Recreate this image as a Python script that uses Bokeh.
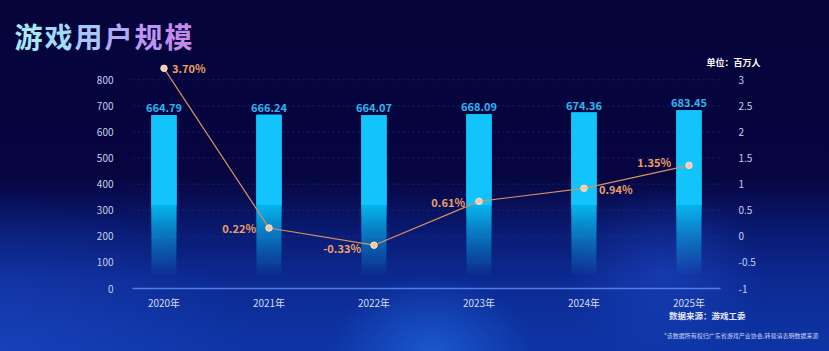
from bokeh.plotting import figure
from bokeh.models import (Range1d, LinearAxis, FixedTicker, ColumnDataSource, Label)
from bokeh.core.properties import value
from bokeh.embed import file_html
from bokeh.resources import INLINE

# ---------------- data ----------------
years = ["2020年", "2021年", "2022年", "2023年", "2024年", "2025年"]
users = [664.79, 666.24, 664.07, 668.09, 674.36, 683.45]
growth_labels = ["3.70%", "0.22%", "-0.33%", "0.61%", "0.94%", "1.35%"]
growth_pos = [3.22, 0.16, -0.17, 0.67, 0.92, 1.36]   # positions as drawn in the picture
left_ticks = [0, 100, 200, 300, 400, 500, 600, 700, 800]
right_ticks = [-1, -0.5, 0, 0.5, 1, 1.5, 2, 2.5, 3]
right_tick_text = ["-1", "-0.5", "0", "0.5", "1", "1.5", "2", "2.5", "3"]

FONT = "Noto Sans CJK SC"
W, H = 829, 351
# plotting area (pixels) and its data extent
PL, PR, PT, PB = 132, 720, 60, 288
AX0, AX1 = -0.3, 5.3          # x data at PL / PR
AY0, AY1 = 0, 874             # left y data at PB / PT
BY0, BY1 = -1, 3.37           # right y data at PB / PT

sx_ = (AX1 - AX0) / (PR - PL)
sy_ = (AY1 - AY0) / (PB - PT)
sr_ = (BY1 - BY0) / (PB - PT)
X0, X1 = AX0 - PL * sx_, AX1 + (W - PR) * sx_
Y0, Y1 = AY0 - (H - PB) * sy_, AY0 + PB * sy_
R0, R1 = BY0 - (H - PB) * sr_, BY0 + PB * sr_


def xd(px):
    return AX0 + (px - PL) * sx_


def yd(py):
    return AY0 + (PB - py) * sy_


xs = list(range(len(years)))

p = figure(width=W, height=H, output_backend="svg", toolbar_location=None,
           x_range=Range1d(X0, X1), y_range=Range1d(Y0, Y1), min_border=0,
           x_axis_location=None, y_axis_location=None)
p.title.visible = False
p.extra_y_ranges = {"pct": Range1d(R0, R1)}
p.outline_line_color = None
p.background_fill_alpha = 0
p.border_fill_alpha = 0
p.grid.visible = False
p.styles = {
    "background":
        "radial-gradient(ellipse 12% 22% at 52% 100%, rgba(40,130,255,0.45) 0%, rgba(40,130,255,0) 100%),"
        "radial-gradient(ellipse 30% 45% at 0% 100%, rgba(35,80,210,0.45) 0%, rgba(35,80,210,0) 100%),"
        "radial-gradient(ellipse 12% 25% at 80% 78%, rgba(40,90,230,0.35) 0%, rgba(40,90,230,0) 100%),"
        "linear-gradient(to bottom, #06043a 0%, #060540 50%, #091a72 66%, #0c2a92 80%, #0e35a6 100%)"
}

# grid lines at the left-axis ticks, across the plotting area only
p.segment(x0=[AX0] * len(left_ticks), x1=[AX1] * len(left_ticks), y0=left_ticks, y1=left_ticks,
          line_color="#2a3a8c", line_alpha=0.55, line_dash="2 3", line_width=1)

# axes, fixed at the plotting-area edges
xa = LinearAxis(fixed_location=AY0, ticker=FixedTicker(ticks=xs), bounds=(AX0, AX1))
xa.major_label_overrides = {i: y for i, y in enumerate(years)}
xa.axis_line_color = "#4f7fe6"
xa.axis_line_width = 1.5
xa.major_tick_line_color = None
xa.minor_tick_line_color = None
xa.major_label_standoff = 0
xa.major_label_text_color = "#d4dcf2"
xa.major_label_text_font = FONT
xa.major_label_text_font_size = "10px"
p.add_layout(xa, "below")

la = LinearAxis(fixed_location=AX0, ticker=FixedTicker(ticks=left_ticks), bounds=(AY0, 800))
la.axis_line_color = None
la.major_tick_line_color = None
la.minor_tick_line_color = None
la.major_label_standoff = 13
la.major_label_text_color = "#c8d0ea"
la.major_label_text_font = FONT
la.major_label_text_font_size = "10px"
p.add_layout(la, "left")

ra = LinearAxis(y_range_name="pct", fixed_location=AX1, ticker=FixedTicker(ticks=right_ticks),
                bounds=(-1, 3))
ra.major_label_overrides = {t: s for t, s in zip(right_ticks, right_tick_text)}
ra.axis_line_color = None
ra.major_tick_line_color = None
ra.minor_tick_line_color = None
ra.major_label_standoff = 12
ra.major_label_text_color = "#c8d0ea"
ra.major_label_text_font = FONT
ra.major_label_text_font_size = "10px"
p.add_layout(ra, "right")

# bars: stacked translucent layers give a smooth fade towards the bottom
BAR_W = 0.24
BAR_C = "#12c4fb"
FADE_LO, FADE_HI = 40, 320
layer_alpha = 0.05
bottoms = []
k = 1
while True:
    o = 1 - (1 - layer_alpha) ** k
    if o > 0.97:
        break
    bottoms.append(FADE_LO + (FADE_HI - FADE_LO) * o / 0.97)
    k += 1
sx, sb, st = [], [], []
for i, u in zip(xs, users):
    for b in bottoms:
        sx.append(i); sb.append(b); st.append(u)
p.vbar(x="x", bottom="b", top="t", width=BAR_W, fill_color=BAR_C, fill_alpha=layer_alpha,
       line_color=None, source=ColumnDataSource(dict(x=sx, b=sb, t=st)))
p.vbar(x=xs, top=users, bottom=FADE_HI, width=BAR_W, fill_color=BAR_C, line_color=None)

# bar value labels
p.text(x=xs, y=users, text=[f"{u:.2f}" for u in users], text_align="center",
       text_baseline="bottom", y_offset=-3, text_color="#2cb6ee",
       text_font=value(FONT), text_font_size="11px", text_font_style="bold")

# growth line
p.line(x=xs, y=growth_pos, y_range_name="pct", line_color="#d98f5e", line_width=1.2)
p.scatter(x=xs, y=growth_pos, y_range_name="pct", size=6.5, fill_color="#f6c9a4",
          line_color="#fbe2cc", line_width=1)

offx = [8, -13, -13, -14, 15, -18]
offy = [0, 0, 3, 1, 1, -3]
aligns = ["left", "right", "right", "right", "left", "right"]
p.text(x="x", y="y", text="t", x_offset="ox", y_offset="oy", text_align="al",
       text_baseline="middle", y_range_name="pct", text_color="#ee9f64",
       text_font=value(FONT), text_font_size="11px", text_font_style="bold",
       source=ColumnDataSource(dict(x=xs, y=growth_pos, t=growth_labels, ox=offx, oy=offy, al=aligns)))

# title, gradient-ish by character
title = "游戏用户规模"
tcolors = ["#a6e9f6", "#9fdcf8", "#a9c6fa", "#b2a9f6", "#bc96f0", "#c38ceb"]
for i, (ch, c) in enumerate(zip(title, tcolors)):
    p.add_layout(Label(x=xd(14 + 30 * i), y=yd(35), text=ch,
                       text_color=c, text_font=FONT, text_font_size="28px",
                       text_font_style="bold", text_baseline="middle", text_align="left"))

p.add_layout(Label(x=xd(760), y=yd(62), text="单位：百万人",
                   text_color="#ffffff", text_font=FONT, text_font_size="9px",
                   text_font_style="bold", text_baseline="middle", text_align="right"))
p.add_layout(Label(x=xd(745), y=yd(314), text="数据来源：游戏工委",
                   text_color="#e2e8fa", text_font=FONT, text_font_size="8.5px",
                   text_font_style="bold", text_baseline="middle", text_align="right"))
p.add_layout(Label(x=xd(818), y=yd(335),
                   text="*该数据所有权归广东省游戏产业协会,转载请表明数据来源",
                   text_color="#c8d2f4", text_font=FONT, text_font_size="6px",
                   text_baseline="middle", text_align="right"))

open("out.html", "w").write(file_html(p, INLINE))
